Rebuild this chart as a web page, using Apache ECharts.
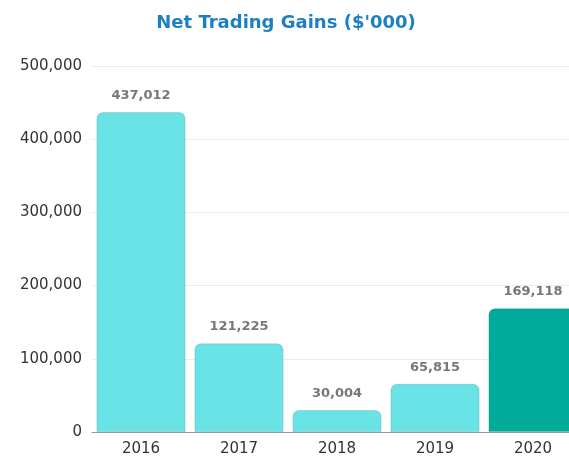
<!DOCTYPE html>
<html>
<head>
<meta charset="utf-8">
<script src="https://cdn.jsdelivr.net/npm/echarts@6/dist/echarts.min.js"></script>
<style>
  html, body { margin: 0; padding: 0; background: #fff; overflow: hidden; }
  #wrap { width: 569px; height: 458px; overflow: hidden; }
  #chart { width: 582px; height: 458px; }
</style>
</head>
<body>
<div id="wrap"><div id="chart"></div></div>
<script>
const years = ['2016', '2017', '2018', '2019', '2020'];
const gains = [437012, 121225, 30004, 65815, 169118];
const barColors = ['#6ae3e7', '#6ae3e7', '#6ae3e7', '#6ae3e7', '#00ab9a'];

const chart = echarts.init(document.getElementById('chart'));

const fmt = v => v.toLocaleString('en-US');

chart.setOption({
  animation: false,
  title: {
    text: "Net Trading Gains ($'000)",
    left: 281,
    top: 9,
    textAlign: 'center',
    textStyle: { color: '#1b7fc6', fontSize: 18, fontWeight: 'bold', fontFamily: 'DejaVu Sans' }
  },
  grid: { left: 92, top: 66, right: 0, bottom: 26 },
  xAxis: {
    type: 'category',
    data: years,
    axisLine: { lineStyle: { color: '#999', width: 1 } },
    axisTick: { show: false },
    axisLabel: { color: '#333', fontSize: 15, margin: 10, fontFamily: 'DejaVu Sans' }
  },
  yAxis: {
    type: 'value',
    min: 0,
    max: 500000,
    interval: 100000,
    axisLine: { show: false },
    axisTick: { show: false },
    splitLine: { lineStyle: { color: '#ebebeb' } },
    axisLabel: { color: '#333', fontSize: 15, margin: 10, fontFamily: 'DejaVu Sans', formatter: fmt }
  },
  series: [{
    type: 'bar',
    data: gains.map((v, i) => ({ value: v, itemStyle: { color: barColors[i] } })),
    barCategoryGap: '9%',
    itemStyle: { borderRadius: [6, 6, 0, 0], borderColor: 'rgba(0,0,0,0.12)', borderWidth: 1 },
    label: {
      show: true,
      position: 'top',
      distance: 10,
      color: '#777',
      fontSize: 13,
      fontWeight: 'bold',
      fontFamily: 'DejaVu Sans',
      formatter: p => fmt(p.value)
    }
  }]
});
</script>
</body>
</html>
